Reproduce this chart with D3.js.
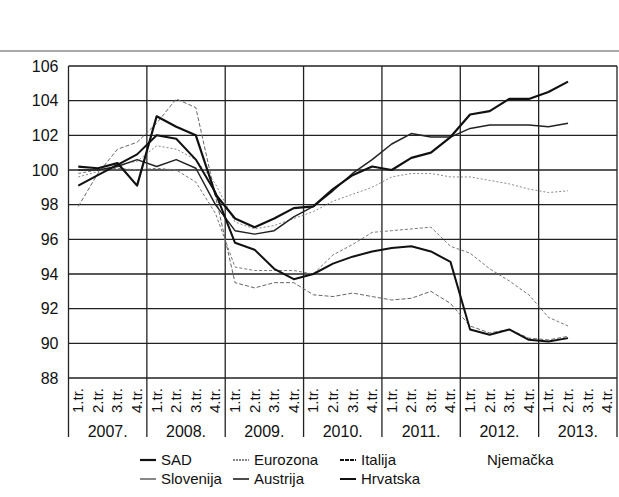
<!DOCTYPE html>
<html>
<head>
<meta charset="utf-8">
<script src="https://cdn.jsdelivr.net/npm/d3@7"></script>
<style>
  body { margin: 0; background: #fff; }
  text { font-family: 'Liberation Sans Narrow', 'Arial Narrow', 'Liberation Sans', sans-serif; fill: #111; }
</style>
</head>
<body>
<div id="chart"></div>
<script>
// quarters 2007 - 2013
const years = ["2007.", "2008.", "2009.", "2010.", "2011.", "2012.", "2013."];
const quarterLabels = ["1.tr.", "2.tr.", "3.tr.", "4.tr."];
const yTicks = [88, 90, 92, 94, 96, 98, 100, 102, 104, 106];

// index values (2007 = 100), 2007 Q1 .. 2013 Q2
const sad = [100.2, 100.1, 100.4, 99.1, 103.1, 102.5, 102.0, 98.6, 97.2, 96.7, 97.2, 97.8,
  97.9, 98.9, 99.7, 100.2, 100.0, 100.7, 101.0, 101.9, 103.2, 103.4, 104.1, 104.1, 104.5, 105.1];
const eurozona = [99.6, 99.9, 100.3, 100.5, 101.4, 101.2, 100.6, 99.2, 97.0, 96.6, 96.8, 97.2,
  97.6, 98.2, 98.6, 99.0, 99.6, 99.8, 99.8, 99.6, 99.6, 99.4, 99.2, 98.9, 98.7, 98.8];
const italija = [99.8, 100.0, 100.1, 100.0, 100.1, 100.0, 99.3, 97.5, 94.4, 94.2, 94.2, 94.2,
  94.0, 95.1, 95.7, 96.4, 96.5, 96.6, 96.7, 95.6, 95.2, 94.3, 93.6, 92.8, 91.5, 91.0];
const slovenija = [97.9, 99.8, 101.2, 101.6, 102.7, 104.1, 103.6, 98.5, 93.5, 93.2, 93.5, 93.5,
  92.8, 92.7, 92.9, 92.7, 92.5, 92.6, 93.0, 92.3, 91.0, 90.6, 90.8, 90.3, 90.2, 90.4];
const austrija = [100.0, 100.0, 100.2, 100.6, 100.2, 100.6, 100.1, 98.0, 96.5, 96.3, 96.5, 97.3,
  97.9, 98.8, 99.8, 100.6, 101.5, 102.1, 101.9, 101.9, 102.4, 102.6, 102.6, 102.6, 102.5, 102.7];
const hrvatska = [99.1, 99.7, 100.3, 100.9, 102.0, 101.8, 100.6, 98.7, 95.8, 95.4, 94.3, 93.7,
  94.0, 94.6, 95.0, 95.3, 95.5, 95.6, 95.3, 94.7, 90.8, 90.5, 90.8, 90.2, 90.1, 90.3];

const series = [
  { name: "Eurozona", values: eurozona, color: "#888", width: 1, dash: "2,2" },
  { name: "Italija", values: italija, color: "#777", width: 1, dash: "3,2" },
  { name: "Slovenija", values: slovenija, color: "#666", width: 1, dash: "4,2" },
  { name: "Austrija", values: austrija, color: "#222", width: 1.5, dash: null },
  { name: "SAD", values: sad, color: "#111", width: 2.2, dash: null },
  { name: "Hrvatska", values: hrvatska, color: "#111", width: 2, dash: null }
];

const legendRows = [
  [{ name: "SAD", width: 2.2, dash: null }, { name: "Eurozona", width: 1.2, dash: "2,1" },
   { name: "Italija", width: 2, dash: "4,1" }, { name: "Njemačka", width: 0, dash: null }],
  [{ name: "Slovenija", width: 1, dash: null }, { name: "Austrija", width: 1.5, dash: null },
   { name: "Hrvatska", width: 2, dash: null }]
];

const width = 619, height = 497;
const plotLeft = 68.5, plotRight = 617, plotTop = 66, plotBottom = 378, axisBottom = 437;

const quarters = [];
years.forEach(yr => quarterLabels.forEach(q => quarters.push(yr + q)));

const x = d3.scaleBand().domain(quarters).range([plotLeft, plotRight]);
const y = d3.scaleLinear().domain([88, 106]).range([plotBottom, plotTop]);

const svg = d3.select('#chart').append('svg')
    .attr('width', width)
    .attr('height', height);

// line above the chart
svg.append('line')
    .attr('x1', 0).attr('x2', width)
    .attr('y1', 51).attr('y2', 51)
    .attr('stroke', '#555').attr('stroke-width', 1.2);

// horizontal grid
svg.append('g')
    .selectAll('line')
    .data(yTicks)
    .join('line')
    .attr('x1', plotLeft).attr('x2', plotRight)
    .attr('y1', d => y(d)).attr('y2', d => y(d))
    .attr('stroke', '#222')
    .attr('stroke-width', 1.3);

// year dividers
const yearEdges = years.map((yr, i) => x(quarters[i * 4])).concat([plotRight]);
svg.append('g')
    .selectAll('line')
    .data(yearEdges)
    .join('line')
    .attr('x1', d => d).attr('x2', d => d)
    .attr('y1', plotTop).attr('y2', axisBottom)
    .attr('stroke', '#222')
    .attr('stroke-width', 1.3);

// y axis labels
const yAxis = svg.append('g')
    .attr('transform', `translate(${plotLeft - 10},0)`)
    .call(d3.axisLeft(y).tickValues(yTicks).tickSize(0).tickFormat(d3.format('d')));
yAxis.select('.domain').remove();
yAxis.selectAll('text')
    .attr('x', 0)
    .style('font-family', "'Liberation Sans Narrow', 'Arial Narrow', sans-serif")
    .style('font-size', '16px')
    .attr('fill', '#111');

// quarter labels (rotated)
svg.append('g')
    .selectAll('text')
    .data(quarters)
    .join('text')
    .attr('transform', d => `translate(${x(d) + x.bandwidth() / 2 + 5},${413}) rotate(-90)`)
    .attr('text-anchor', 'start')
    .style('font-size', '15px')
    .text(d => d.slice(5));

// year labels
svg.append('g')
    .selectAll('text')
    .data(years)
    .join('text')
    .attr('x', (d, i) => x(quarters[i * 4]) + x.bandwidth() * 2)
    .attr('y', 437)
    .attr('text-anchor', 'middle')
    .style('font-size', '16px')
    .text(d => d);

// series lines
const line = d3.line()
    .x((d, i) => x(quarters[i]) + x.bandwidth() / 2)
    .y(d => y(d));

svg.append('g')
    .selectAll('path')
    .data(series)
    .join('path')
    .attr('d', d => line(d.values))
    .attr('fill', 'none')
    .attr('stroke', d => d.color)
    .attr('stroke-width', d => d.width)
    .attr('stroke-dasharray', d => d.dash)
    .attr('stroke-linejoin', 'round');

// legend
const colX = [140, 233, 340, 487];
const rowY = [460, 479];
legendRows.forEach((row, r) => {
    row.forEach((item, c) => {
        const g = svg.append('g').attr('transform', `translate(${colX[c]},${rowY[r]})`);
        if (item.width > 0) {
            g.append('line')
                .attr('x1', 0).attr('x2', 16)
                .attr('y1', 0).attr('y2', 0)
                .attr('stroke', '#111')
                .attr('stroke-width', item.width)
                .attr('stroke-dasharray', item.dash);
            g.append('text')
                .attr('x', 21).attr('y', 5)
                .style('font-size', '15px')
                .text(item.name);
        } else {
            g.append('text')
                .attr('x', 0).attr('y', 5)
                .style('font-size', '15px')
                .text(item.name);
        }
    });
});
</script>
</body>
</html>
